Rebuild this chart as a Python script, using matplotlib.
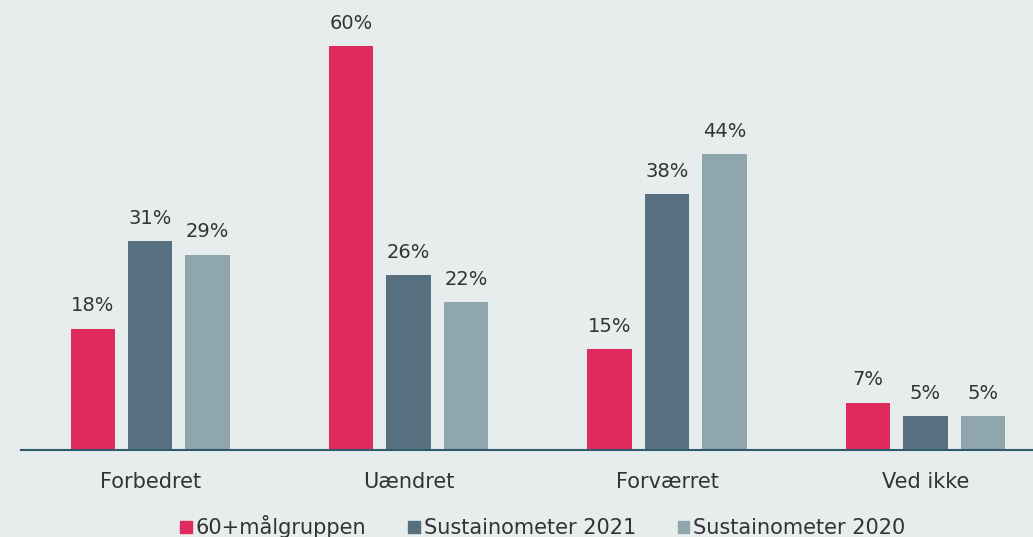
import numpy as np
import matplotlib.pyplot as plt
from matplotlib.patches import Patch

categories = ['Forbedret', 'Uændret', 'Forværret', 'Ved ikke']
series_names = ['60+målgruppen', 'Sustainometer 2021', 'Sustainometer 2020']
maalgruppe = [18, 60, 15, 7]
sus_2021 = [31, 26, 38, 5]
sus_2020 = [29, 22, 44, 5]

colors = ['#DE2A5C', '#56707F', '#8FA6AD']
bg = '#E7EDED'

W, H = 1033, 537
fig = plt.figure(figsize=(W / 100, H / 100), dpi=100, facecolor=bg)
ax = fig.add_axes([21 / W, (H - 450) / H, 1 - 21 / W, 450 / H])
ax.set_facecolor(bg)

x = np.arange(len(categories))
width = 0.172
step = 0.222
for i, (vals, col) in enumerate(zip([maalgruppe, sus_2021, sus_2020], colors)):
    pos = x + (i - 1) * step
    ax.bar(pos, vals, width, color=col)
    for p, v in zip(pos, vals):
        ax.text(p, v + 2.0, f'{v}%', ha='center', va='bottom',
                fontsize=14, color='#333333')

ax.set_xlim(-0.5, 3.416)
ax.set_ylim(0, 66.9)
for s in ['top', 'right', 'left']:
    ax.spines[s].set_visible(False)
ax.spines['bottom'].set_color('#2F5B6C')
ax.spines['bottom'].set_linewidth(1.5)
ax.set_yticks([])
ax.set_xticks(x)
ax.set_xticklabels(categories, fontsize=15, color='#333333')
ax.tick_params(axis='x', length=0, pad=16)

handles = [Patch(color=c) for c in colors]
fig.legend(handles, series_names, loc='center', bbox_to_anchor=(543 / W, 1 - 527 / H),
           ncol=3, frameon=False, fontsize=15, handlelength=0.55, handleheight=0.55,
           handletextpad=0.2, columnspacing=2.0, labelcolor='#333333')

fig.savefig('out.png', dpi=100, facecolor=bg)
